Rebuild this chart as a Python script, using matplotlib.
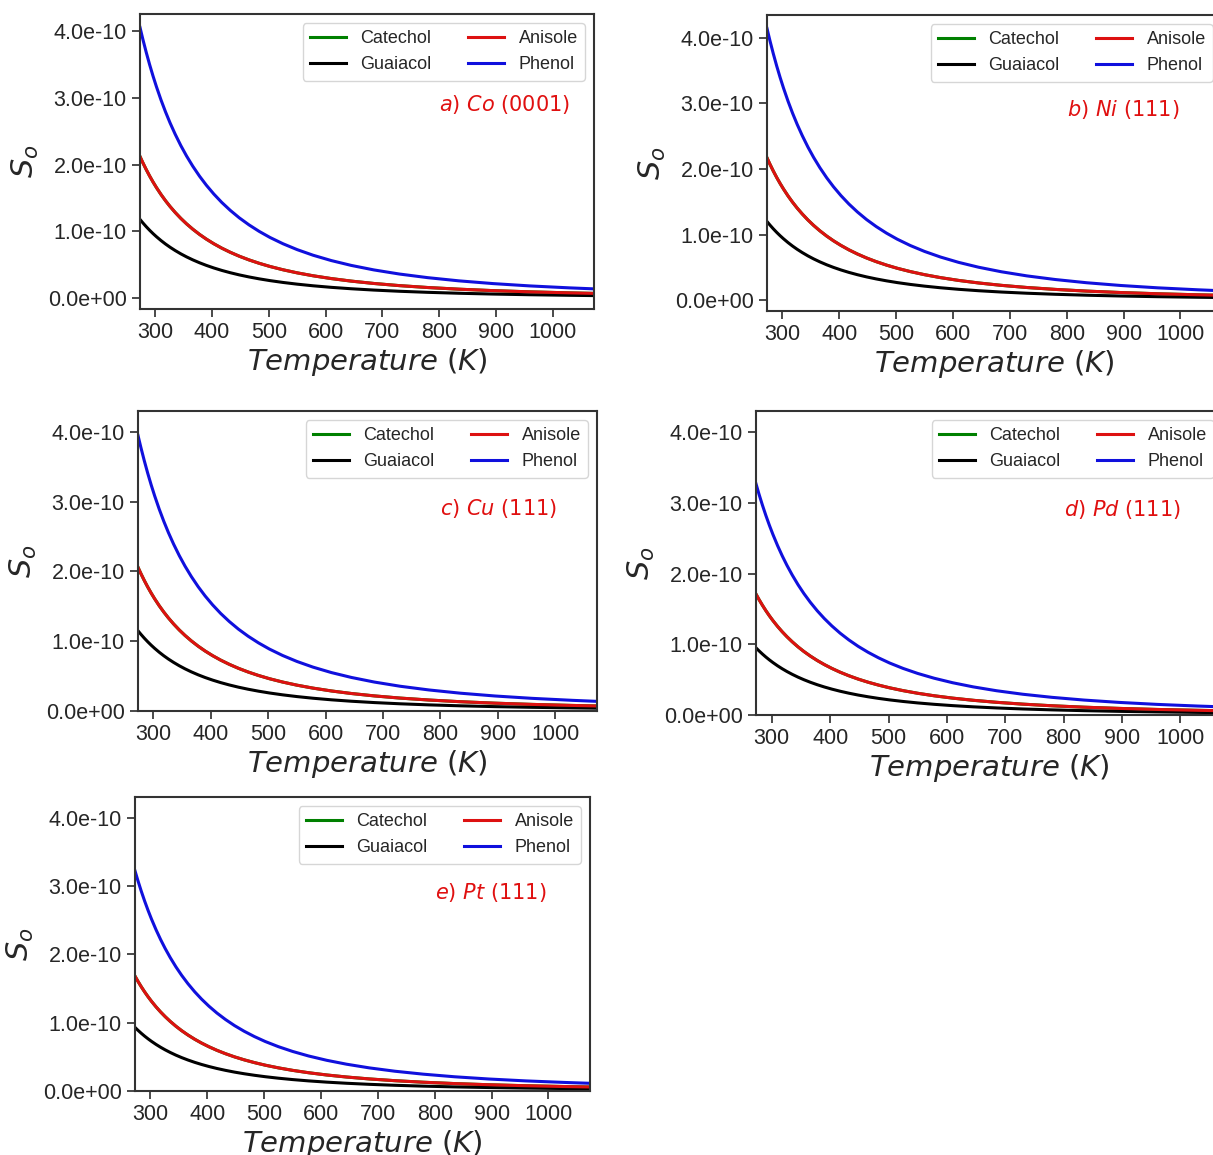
import matplotlib
matplotlib.use("Agg")
import matplotlib.pyplot as plt
from matplotlib.ticker import FormatStrFormatter, MultipleLocator

# ---------------- data ----------------
# Temperatures (K) at which the curves were read
temperature = [273, 278, 284, 290, 296, 302, 310, 318, 326, 335, 345, 355, 366, 378,
               390, 403, 417, 432, 448, 465, 483, 502, 525, 550, 578, 610, 645, 685,
               730, 780, 835, 895, 960, 1030, 1073]

# Decay profile, relative to the value at 273 K
# (all curves in all panels share this shape)
relative_decay = [1.000, 0.9565, 0.9078, 0.8624, 0.8202, 0.7809, 0.7324, 0.6881,
                  0.6475, 0.6058, 0.5636, 0.5255, 0.4877, 0.4506, 0.4174, 0.3852,
                  0.3542, 0.3249, 0.2971, 0.2713, 0.2472, 0.2248, 0.2015, 0.1798,
                  0.1592, 0.1395, 0.1217, 0.1050, 0.0898, 0.0764, 0.0646, 0.0545,
                  0.0459, 0.0387, 0.0350]

# Value of each series at 273 K, in units of 1e-10, per surface
surfaces = ["Co (0001)", "Ni (111)", "Cu (111)", "Pd (111)", "Pt (111)"]
catechol_273 = [2.12, 2.17, 2.06, 1.71, 1.68]   # hidden under Anisole
guaiacol_273 = [1.18, 1.20, 1.15, 0.95, 0.93]
anisole_273 = [2.12, 2.17, 2.06, 1.71, 1.68]
phenol_273 = [4.05, 4.14, 3.95, 3.27, 3.22]

series_names = ["Catechol", "Guaiacol", "Anisole", "Phenol"]
series_start = [catechol_273, guaiacol_273, anisole_273, phenol_273]
series_colors = ["#008000", "#000000", "#dd1111", "#1010dd"]
panel_titles = [r"$a$) $Co$ (0001)", r"$b$) $Ni$ (111)", r"$c$) $Cu$ (111)",
                r"$d$) $Pd$ (111)", r"$e$) $Pt$ (111)"]
SCALE = 1e-10

# ---------------- style ----------------
plt.rcParams.update({
    "font.family": ["Liberation Sans", "DejaVu Sans"],
    "mathtext.fontset": "dejavusans",
    "axes.edgecolor": "0.2",
    "axes.linewidth": 1.5,
    "xtick.color": "0.2",
    "ytick.color": "0.2",
    "xtick.labelcolor": "0.15",
    "ytick.labelcolor": "0.15",
    "xtick.major.size": 6,
    "ytick.major.size": 6,
    "xtick.major.width": 1.25,
    "ytick.major.width": 1.25,
    "text.color": "0.15",
    "axes.labelcolor": "0.15",
})

W, H = 1213, 1155
fig = plt.figure(figsize=(W / 100, H / 100), dpi=100)

# axes rectangles in pixels: left, top, right, bottom
rects_px = [
    (140, 14, 594, 309),
    (767, 15, 1222, 311),
    (138, 411, 597, 711),
    (756, 411, 1223, 715),
    (135, 797, 590, 1091),
]
fixed_ylim = [None, None, (0, 4.3e-10), (0, 4.3e-10), (0, 4.3e-10)]

for i, (l, t, r, b) in enumerate(rects_px):
    ax = fig.add_axes([l / W, (H - b) / H, (r - l) / W, (b - t) / H])
    for name, color, start in zip(series_names, series_colors, series_start):
        vals = [start[i] * d * SCALE for d in relative_decay]
        ax.plot(temperature, vals, color=color, lw=2.2, label=name,
                solid_joinstyle="round")
    ax.set_xlim(273, 1073)
    if fixed_ylim[i] is not None:
        ax.set_ylim(*fixed_ylim[i])
    ax.xaxis.set_major_locator(MultipleLocator(100))
    ax.yaxis.set_major_locator(MultipleLocator(1e-10))
    ax.yaxis.set_major_formatter(FormatStrFormatter("%.1e"))
    ax.tick_params(labelsize=15.5)
    ax.set_xlabel(r"$Temperature\ (K)$", fontsize=21, labelpad=2)
    ax.set_ylabel(r"$S_o$", fontsize=22, labelpad=5)
    ax.legend(loc="upper right", ncol=2, fontsize=13, frameon=True)
    ax.text(800, 2.9e-10, panel_titles[i], color="#e01010", fontsize=15,
            family="DejaVu Sans", ha="left", va="center")

fig.savefig("out.png", dpi=100)
